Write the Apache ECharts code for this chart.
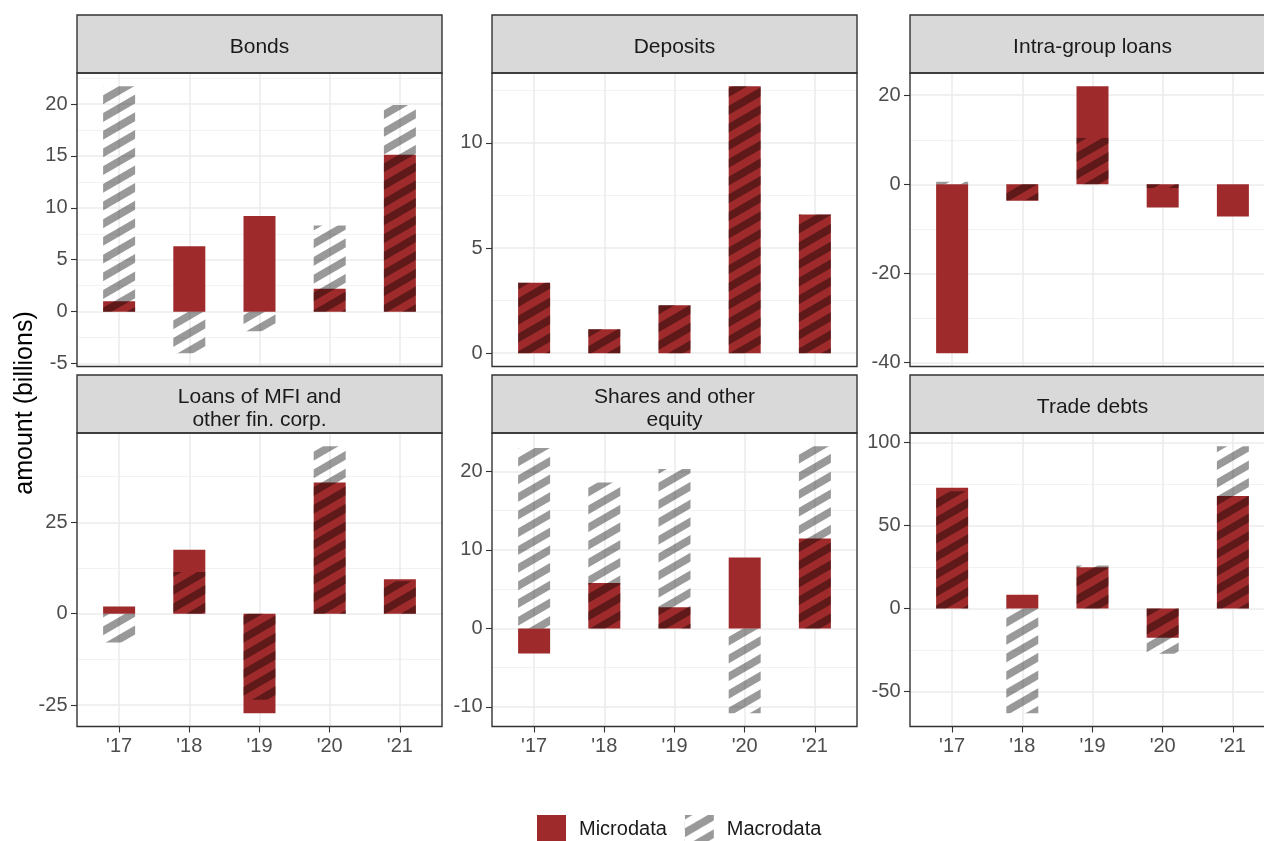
<!DOCTYPE html>
<html>
<head>
<meta charset="utf-8">
<script src="https://cdn.jsdelivr.net/npm/echarts@6/dist/echarts.min.js"></script>
<style>
  html, body { margin: 0; padding: 0; background: #ffffff; overflow: hidden; }
  #chart { width: 1264px; height: 841px; }
</style>
</head>
<body>
<div id="chart"></div>
<script>
// Categories and facet titles
const years = ["'17", "'18", "'19", "'20", "'21"];
const panelTitles = [
  'Bonds', 'Deposits', 'Intra-group loans',
  'Loans of MFI and\nother fin. corp.', 'Shares and other\nequity', 'Trade debts'
];

// Annual amounts (billions) per instrument
const bondsMicro    = [1.0, 6.3, 9.2, 2.2, 15.1];
const bondsMacro    = [21.7, -4.0, -1.9, 8.3, 19.9];
const depositsMicro = [3.35, 1.14, 2.28, 12.69, 6.6];
const depositsMacro = [3.35, 1.14, 2.28, 12.69, 6.6];
const intraMicro    = [-37.9, -3.7, 22.0, -5.2, -7.2];
const intraMacro    = [0.6, -3.6, 10.4, -0.8, 0];
const loansMicro    = [2.0, 17.5, -27.2, 35.9, 9.45];
const loansMacro    = [-7.9, 11.4, -23.5, 45.8, 8.9];
const sharesMicro   = [-3.2, 5.8, 2.7, 9.05, 11.45];
const sharesMacro   = [23.0, 18.6, 20.3, -10.8, 23.2];
const tradeMicro    = [72.7, 8.3, 24.8, -17.6, 67.7];
const tradeMacro    = [70.5, -63.0, 25.9, -27.3, 97.6];

// Y tick labels per panel
const bondsTicks    = [-5, 0, 5, 10, 15, 20];
const depositsTicks = [0, 5, 10];
const intraTicks    = [-40, -20, 0, 20];
const loansTicks    = [-25, 0, 25];
const sharesTicks   = [-10, 0, 10, 20];
const tradeTicks    = [-50, 0, 50, 100];

const seriesNames = ['Microdata', 'Macrodata'];
const yTitle = 'amount (billions)';

const panels = [
  { micro: bondsMicro,    macro: bondsMacro,    ticks: bondsTicks },
  { micro: depositsMicro, macro: depositsMacro, ticks: depositsTicks },
  { micro: intraMicro,    macro: intraMacro,    ticks: intraTicks },
  { micro: loansMicro,    macro: loansMacro,    ticks: loansTicks },
  { micro: sharesMicro,   macro: sharesMacro,   ticks: sharesTicks },
  { micro: tradeMicro,    macro: tradeMacro,    ticks: tradeTicks }
];

// Layout of the 2 x 3 facet grid
const colLeft = [77, 492, 910];
const rowTop = [73, 433];
const plotW = 365, plotH = 293.5, stripH = 58;
const FONT = '"Liberation Sans", Arial, Helvetica, sans-serif';
const RED = '#9e2a2b';

// Diagonal 30-degree stripes for the macro bars
function stripeCanvas(w, h) {
  const c = document.createElement('canvas');
  c.width = w; c.height = h;
  const ctx = c.getContext('2d');
  const period = 17.7;
  const slope = Math.tan(Math.PI / 6);
  ctx.strokeStyle = 'rgba(0,0,0,0.4)';
  ctx.lineWidth = period * Math.cos(Math.PI / 6) / 2;
  ctx.lineCap = 'butt';
  for (let y0 = -period; y0 < h + (w + 20) * slope + period; y0 += period) {
    ctx.beginPath();
    ctx.moveTo(-10, y0 + 10 * slope);
    ctx.lineTo(w + 10, y0 - (w + 10) * slope);
    ctx.stroke();
  }
  return c;
}
const hatch = { image: stripeCanvas(1300, 900), repeat: 'repeat' };

// ggplot-style 5% expansion around the bar range (bars include zero)
function expandRange(a, b) {
  const lo = Math.min(0, ...a, ...b);
  const hi = Math.max(0, ...a, ...b);
  const pad = (hi - lo) * 0.05;
  return [lo - pad, hi + pad];
}

const grids = [], xAxes = [], yAxes = [], series = [], graphics = [];
const xPositions = years.map((_, k) => k + 1);

panels.forEach((p, i) => {
  const col = i % 3, row = Math.floor(i / 3);
  const left = colLeft[col], top = rowTop[row];
  const [ymin, ymax] = expandRange(p.micro, p.macro);
  const major = p.ticks[1] - p.ticks[0];
  const isBottom = row === 1;
  const twoLine = panelTitles[i].indexOf('\n') >= 0;

  grids.push({ left: left, top: top, width: plotW, height: plotH, outerBoundsMode: 'none', containLabel: false });

  xAxes.push({
    type: 'value', gridIndex: i, min: 1 - 0.6, max: years.length + 0.6,
    minInterval: 1, maxInterval: 1,
    axisLine: { show: false, onZero: false },
    axisTick: { show: isBottom, length: 6, customValues: xPositions, lineStyle: { color: '#333333', width: 1.1 } },
    axisLabel: {
      show: isBottom, customValues: xPositions, margin: 10,
      fontSize: 20, fontFamily: FONT, color: '#4d4d4d',
      formatter: v => years[Math.round(v) - 1] || ''
    },
    splitLine: { show: true, customValues: xPositions, lineStyle: { color: '#ebebeb', width: 1.5 } },
    minorSplitLine: { show: false }
  });

  // major axis: labels, ticks, major grid
  yAxes.push({
    type: 'value', gridIndex: i, min: ymin, max: ymax,
    minInterval: major, maxInterval: major,
    axisLine: { show: false, onZero: false },
    axisTick: { show: true, length: 6, customValues: p.ticks, lineStyle: { color: '#333333', width: 1.1 } },
    axisLabel: { show: true, customValues: p.ticks, margin: 9.5, fontSize: 20, fontFamily: FONT, color: '#4d4d4d' },
    splitLine: { show: true, customValues: p.ticks, lineStyle: { color: '#ebebeb', width: 1.5 } }
  });
  // minor grid halfway between majors
  yAxes.push({
    type: 'value', gridIndex: i, min: ymin, max: ymax, position: 'left',
    minInterval: major / 2, maxInterval: major / 2,
    axisLine: { show: false, onZero: false },
    axisTick: { show: false },
    axisLabel: { show: false },
    splitLine: { show: true, lineStyle: { color: '#f0f0f0', width: 0.9 } }
  });

  series.push({
    name: seriesNames[0], type: 'bar', xAxisIndex: i, yAxisIndex: 2 * i,
    data: p.micro.map((v, k) => [xPositions[k], v]),
    barWidth: 32, barGap: '-100%', z: 3, silent: true,
    itemStyle: { color: RED }
  });
  series.push({
    name: seriesNames[1], type: 'bar', xAxisIndex: i, yAxisIndex: 2 * i,
    data: p.macro.map((v, k) => [xPositions[k], v]),
    barWidth: 32, barGap: '-100%', z: 4, silent: true,
    itemStyle: { color: hatch }
  });

  // facet strip
  graphics.push({
    type: 'rect', z: 100, silent: true,
    shape: { x: left, y: top - stripH, width: plotW, height: stripH },
    style: { fill: '#d9d9d9', stroke: '#333333', lineWidth: 1.4 }
  });
  graphics.push({
    type: 'text', z: 101, silent: true,
    x: left + plotW / 2, y: top - stripH / 2 + (twoLine ? 4.5 : 3),
    style: {
      text: panelTitles[i], align: 'center', verticalAlign: 'middle',
      font: '21px ' + FONT, fill: '#1a1a1a', lineHeight: 23
    }
  });
  // panel border
  graphics.push({
    type: 'rect', z: 100, silent: true,
    shape: { x: left, y: top, width: plotW, height: plotH },
    style: { fill: 'none', stroke: '#333333', lineWidth: 1.4 }
  });
});

// shared y-axis title
graphics.push({
  type: 'text', z: 101, silent: true, x: 25, y: 403, rotation: Math.PI / 2,
  style: { text: yTitle, align: 'center', verticalAlign: 'middle', font: '25px ' + FONT, fill: '#000000' }
});

const chart = echarts.init(document.getElementById('chart'), null, { renderer: 'canvas' });
chart.setOption({
  animation: false,
  backgroundColor: '#ffffff',
  grid: grids,
  xAxis: xAxes,
  yAxis: yAxes,
  series: series,
  legend: {
    data: seriesNames, left: 537, top: 815, orient: 'horizontal', padding: 0,
    icon: 'rect', itemWidth: 29, itemHeight: 29, itemGap: 18,
    selectedMode: false,
    itemStyle: { borderWidth: 0 },
    textStyle: { fontSize: 20, fontFamily: FONT, color: '#1a1a1a', padding: [0, 0, 0, 8] }
  },
  graphic: graphics
});
</script>
</body>
</html>
